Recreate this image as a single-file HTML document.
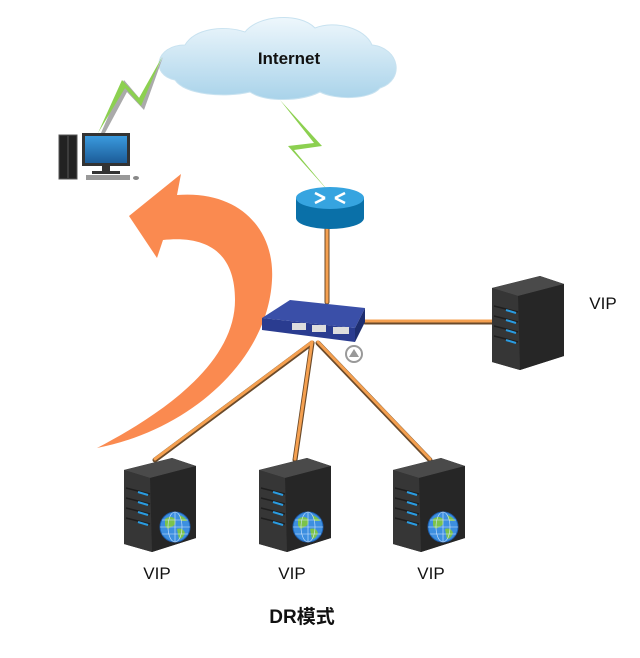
<!DOCTYPE html>
<html><head><meta charset="utf-8"><style>
html,body{margin:0;padding:0;background:#fff;}
svg{display:block;}
</style></head><body>
<svg width="640" height="658" viewBox="0 0 640 658" xmlns="http://www.w3.org/2000/svg">
<defs>
<linearGradient id="cl" x1="0" y1="0" x2="0" y2="1"><stop offset="0" stop-color="#eef7fc"/><stop offset="1" stop-color="#a9d3ea"/></linearGradient>
<linearGradient id="mon" x1="0" y1="0" x2="0" y2="1"><stop offset="0" stop-color="#3a9ade"/><stop offset="1" stop-color="#1c5c98"/></linearGradient>
<g id="srv">
<polygon points="0,12 48,0 72,8 72,80 28,94 0,86" fill="#2e2e2e"/>
<polygon points="0,12 48,0 72,8 26,20" fill="#4a4a4a"/>
<polygon points="26,20 72,8 72,80 28,94" fill="#262626"/>
<polygon points="0,12 26,20 28,94 0,86" fill="#363636"/>
<g stroke="#1e1e1e" stroke-width="1.5"><line x1="2" y1="30" x2="26" y2="36"/><line x1="2" y1="40" x2="26" y2="46"/><line x1="2" y1="50" x2="26" y2="56"/><line x1="2" y1="60" x2="26" y2="66"/></g>
<g stroke="#2a9be0" stroke-width="2"><line x1="14" y1="34" x2="24" y2="37"/><line x1="14" y1="44" x2="24" y2="47"/><line x1="14" y1="54" x2="24" y2="57"/><line x1="14" y1="64" x2="24" y2="67"/></g>
</g>
<g id="globe">
<circle cx="0" cy="0" r="15" fill="#3d8fe0" stroke="#1c5fb0"/>
<path d="M-10,-8 q6,-4 10,0 q2,6 -4,8 q-4,4 -6,-2z M2,2 q6,-2 8,4 q-2,6 -6,6z M4,-12 q6,2 8,6 l-6,0z" fill="#7cc34a"/>
<g stroke="#cfe6ff" stroke-width="0.6" fill="none"><ellipse cx="0" cy="0" rx="7" ry="15"/><line x1="-15" y1="0" x2="15" y2="0"/><line x1="-13" y1="-7" x2="13" y2="-7"/><line x1="-13" y1="7" x2="13" y2="7"/><line x1="0" y1="-15" x2="0" y2="15"/></g>
</g>
</defs>

<!-- cloud -->
<path d="M175,80 C150,75 155,45 185,45 C195,28 225,25 245,32 C258,15 300,12 315,28 C335,20 365,28 372,45 C400,48 405,80 380,88 C370,100 335,100 320,92 C300,102 265,102 250,92 C225,98 185,95 175,80 Z" fill="url(#cl)" stroke="#c8e2f0"/>
<text x="289" y="64" font-family="Liberation Sans, sans-serif" font-weight="bold" font-size="17" text-anchor="middle" fill="#111">Internet</text>

<!-- lightning left -->
<polygon points="101,133 124,80 141,100 163,57 144,110 127,92 105,133" fill="#aaa"/>
<polygon points="98,133 122,80 139,98 162,57 141,106 125,88" fill="#8cd050"/>
<!-- lightning right -->
<polygon points="280,100 322,146 294,150 330,193 288,146 314,143" fill="#8cd050"/>

<!-- computer -->
<rect x="59" y="135" width="18" height="44" fill="#222" stroke="#555"/>
<line x1="68" y1="136" x2="68" y2="178" stroke="#555"/>
<rect x="82" y="133" width="48" height="33" fill="#333"/>
<rect x="85" y="136" width="42" height="27" fill="url(#mon)"/>
<rect x="102" y="166" width="8" height="5" fill="#333"/>
<rect x="92" y="171" width="28" height="3" fill="#333"/>
<rect x="86" y="175" width="44" height="5" fill="#999"/>
<ellipse cx="136" cy="178" rx="3" ry="2" fill="#888"/>

<!-- orange arrow -->
<path d="M129,216 L181,174 L177,195 C240,190 275,230 272,280 C268,360 190,430 97,448 C170,410 235,360 235,300 C235,255 210,235 163,240 L157,258 Z" fill="#fa8a50"/>

<!-- connectors -->
<g stroke="#6b4a2a" stroke-width="5" stroke-linecap="round">
<line x1="327" y1="228" x2="327" y2="302"/>
<line x1="365" y1="322" x2="493" y2="322"/>
<line x1="312" y1="343" x2="155" y2="460"/>
<line x1="312" y1="343" x2="295" y2="460"/>
<line x1="318" y1="343" x2="430" y2="460"/>
</g>
<g stroke="#f5a050" stroke-width="3" stroke-linecap="round">
<line x1="327" y1="228" x2="327" y2="302"/>
<line x1="365" y1="321" x2="493" y2="321"/>
<line x1="312" y1="342" x2="155" y2="459"/>
<line x1="312" y1="342" x2="295" y2="459"/>
<line x1="318" y1="342" x2="430" y2="459"/>
</g>

<!-- router -->
<rect x="296" y="198" width="68" height="20" fill="#0a70a8"/>
<ellipse cx="330" cy="218" rx="34" ry="11" fill="#0a70a8"/>
<ellipse cx="330" cy="198" rx="34" ry="11" fill="#36a4e0"/>
<g stroke="#fff" stroke-width="2.5"><line x1="315" y1="193" x2="325" y2="198"/><line x1="345" y1="203" x2="335" y2="198"/><line x1="345" y1="193" x2="335" y2="198"/><line x1="315" y1="203" x2="325" y2="198"/></g>

<!-- switch -->
<polygon points="262,318 290,300 365,308 355,328" fill="#3a4fa8"/>
<polygon points="262,318 355,328 355,342 262,330" fill="#2a3c90"/>
<polygon points="355,328 365,308 365,322 355,342" fill="#1e2e70"/>
<g fill="#ddd"><rect x="292" y="323" width="14" height="7"/><rect x="312" y="325" width="14" height="7"/><rect x="333" y="327" width="16" height="7"/></g>
<circle cx="354" cy="354" r="8" fill="#fff" stroke="#999" stroke-width="2"/>
<polygon points="354,349 359,357 349,357" fill="#999"/>

<!-- servers -->
<use href="#srv" x="492" y="276"/>
<use href="#srv" x="124" y="458"/>
<use href="#srv" x="259" y="458"/>
<use href="#srv" x="393" y="458"/>
<use href="#globe" x="175" y="527"/>
<use href="#globe" x="308" y="527"/>
<use href="#globe" x="443" y="527"/>

<g font-family="Liberation Sans, sans-serif" font-size="17" fill="#111" text-anchor="middle">
<text x="603" y="309">VIP</text>
<text x="157" y="579">VIP</text>
<text x="292" y="579">VIP</text>
<text x="431" y="579">VIP</text>
</g>
<text x="302" y="623" font-family="Liberation Sans, 'Noto Sans CJK SC', sans-serif" font-weight="bold" font-size="19" text-anchor="middle" fill="#111">DR模式</text>
</svg>
</body></html>
